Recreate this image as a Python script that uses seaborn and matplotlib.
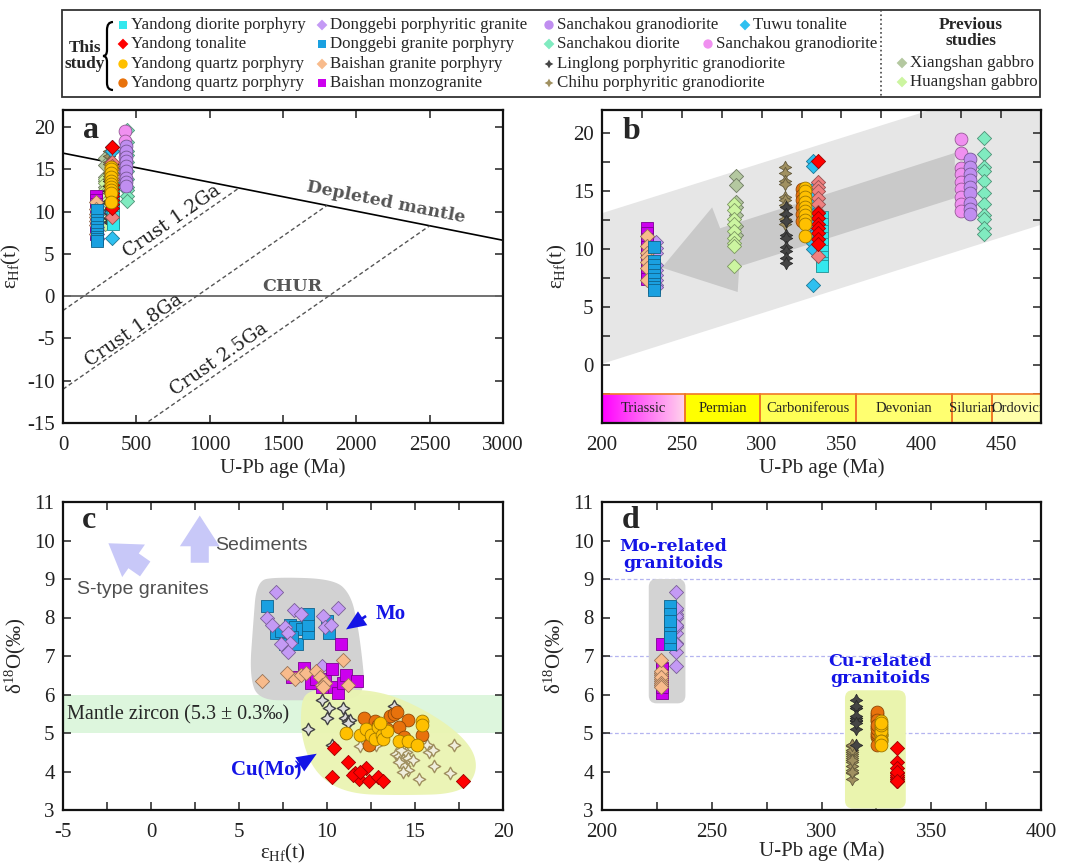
import numpy as np
import matplotlib
matplotlib.use("Agg")
import matplotlib.pyplot as plt
import matplotlib.colors as mcolors
import seaborn as sns
from matplotlib.patches import Polygon, Rectangle, FancyBboxPatch, PathPatch
from matplotlib.path import Path
from matplotlib.ticker import MultipleLocator
from matplotlib.colors import LinearSegmentedColormap

# ===================== DATA =====================
# ---- Hf isotopes (panels a, b): zircon U-Pb age (Ma) and eHf(t) ----
yd_dio_age = 338.0      # Yandong diorite porphyry
yd_dio_ehf = [12.8, 12.2, 11.6, 11.0, 10.4, 9.8, 9.3, 8.8, 8.5]
yd_ton_age = 335.0      # Yandong tonalite
yd_ton_ehf = [17.6, 13.1, 12.7, 12.2, 11.8, 11.4, 10.9, 10.4]
yd_ton_light_ehf = [15.8, 15.4, 15.0, 14.4, 13.9, 13.2, 9.4]
yd_qp1_age = 327.0      # Yandong quartz porphyry (yellow)
yd_qp1_ehf = [15.3, 15.0, 14.5, 14.1, 13.6, 13.3, 12.9, 12.5, 12.2, 11.1]
yd_qp2_age = 325.0      # Yandong quartz porphyry (orange)
yd_qp2_ehf = [15.2, 14.7, 14.2, 13.6, 13.0, 12.4]
dgb_pg_age = 234.0      # Donggebi porphyritic granite
dgb_pg_ehf = [10.6, 10.1, 9.7, 8.6, 8.2, 7.8, 7.3, 6.9, 6.7]
dgb_gp_age = 232.5      # Donggebi granite porphyry
dgb_gp_ehf = [10.2, 9.0, 8.6, 8.2, 7.8, 7.4, 7.0, 6.7, 6.5]
bs_gp_age = 228.0       # Baishan granite porphyry
bs_gp_ehf = [11.1, 10.3, 9.7, 9.3, 8.9, 8.4, 7.3]
bs_mg_age = 228.0       # Baishan monzogranite
bs_mg_ehf = [11.8, 11.4, 10.9, 10.2, 9.6, 9.0, 8.4, 7.9, 7.4]
sck_gd1_age = 430.5     # Sanchakou granodiorite (purple)
sck_gd1_ehf = [17.8, 17.1, 16.5, 16.0, 15.4, 14.8, 14.0, 13.5, 13.0]
sck_dio_age = 439.5     # Sanchakou diorite
sck_dio_ehf = [19.6, 18.2, 17.1, 16.7, 15.9, 14.8, 13.9, 12.9, 12.6, 11.8, 11.3]
ll_age = 315.5          # Linglong porphyritic granodiorite
ll_ehf = [13.6, 13.0, 12.4, 11.2, 11.0, 10.2, 9.8, 9.2, 8.8]
ch_age = 314.5          # Chihu porphyritic granodiorite
ch_ehf = [17.1, 16.6, 15.9, 15.6, 14.5, 14.2, 13.8, 13.0, 12.6, 12.2]
tw_age = 332.0          # Tuwu tonalite
tw_ehf = [17.6, 17.2, 15.2, 14.6, 13.8, 12.9, 12.0, 11.2, 10.5, 10.0, 6.9]
sck_gd2_age = 425.0     # Sanchakou granodiorite (pink)
sck_gd2_ehf = [19.5, 18.3, 17.0, 16.5, 15.8, 15.2, 14.5, 13.9, 13.3]
xs_age = 284.0          # Xiangshan gabbro
xs_ehf = [16.3, 15.5, 14.1, 13.6, 12.9, 12.0, 11.2]
hs_age = 283.0          # Huangshan gabbro
hs_ehf = [13.9, 13.4, 12.6, 12.2, 11.6, 11.0, 10.5, 10.3, 8.5]

# ---- O isotopes (panels c, d): eHf(t), d18O and age ----
o_dgb_pg_age = 233.5
o_dgb_pg_ehf = [7.1, 6.6, 6.9, 7.6, 7.8, 7.9, 7.8, 8.1, 8.5, 9.8, 10.6, 9.9, 10.2, 9.7, 7.4]
o_dgb_pg_d18o = [8.65, 8.0, 7.8, 7.75, 7.6, 7.35, 7.1, 8.2, 8.1, 8.05, 8.25, 7.75, 7.8, 6.75, 7.3]
o_dgb_gp_age = 231.0
o_dgb_gp_ehf = [6.6, 7.1, 7.6, 8.3, 7.9, 8.2, 8.6, 8.9, 8.9, 8.9, 7.4, 10.0, 10.1, 8.0]
o_dgb_gp_d18o = [8.3, 7.6, 7.3, 7.3, 7.8, 7.75, 7.7, 7.6, 7.8, 8.1, 7.65, 7.9, 7.6, 7.5]
o_bs_gp_age = 227.0
o_bs_gp_ehf = [6.3, 7.7, 8.2, 8.5, 8.8, 9.4, 9.6, 9.7, 9.9, 10.9, 11.2, 9.8]
o_bs_gp_d18o = [6.35, 6.55, 6.4, 6.5, 6.55, 6.6, 6.45, 6.25, 6.3, 6.9, 6.25, 6.2]
o_bs_mg_age = 227.5
o_bs_mg_ehf = [10.8, 8.0, 8.7, 9.1, 9.9, 10.3, 10.4, 10.6, 10.9, 11.1, 11.7, 9.7, 9.4]
o_bs_mg_d18o = [7.3, 6.45, 6.7, 6.3, 6.4, 6.65, 6.2, 6.05, 6.3, 6.5, 6.35, 6.2, 6.4]
o_ll_age = 315.5
o_ll_ehf = [9.7, 10.1, 10.0, 10.9, 11.0, 11.2, 11.3, 8.9, 10.3, 13.8, 13.6, 11.2]
o_ll_d18o = [5.85, 5.65, 5.4, 5.65, 5.4, 5.3, 5.35, 5.1, 4.7, 5.7, 5.45, 5.25]
o_ch_age = 314.0
o_ch_ehf = [11.9, 12.8, 13.9, 14.1, 14.3, 14.4, 14.6, 14.1, 14.5, 14.2, 14.6, 15.7,
            15.8, 16.0, 16.1, 17.2, 17.0, 15.2, 14.3, 14.9]
o_ch_d18o = [4.65, 4.7, 4.45, 4.4, 4.3, 4.15, 4.05, 4.25, 4.5, 4.55, 4.35, 4.7,
             4.5, 4.55, 4.15, 4.7, 3.95, 3.8, 4.0, 4.3]
o_qp2_age = 325.5
o_qp2_ehf = [12.1, 12.7, 13.6, 13.8, 14.0, 14.6, 14.1, 14.4, 15.4, 12.4, 13.1, 13.4, 12.9]
o_qp2_d18o = [5.4, 5.3, 5.45, 5.5, 5.55, 5.35, 5.15, 4.9, 4.95, 4.7, 5.0, 5.1, 5.2]
o_qp1_age = 327.0
o_qp1_ehf = [11.1, 11.9, 12.2, 12.5, 12.7, 12.9, 13.1, 13.2, 13.4, 14.1, 14.6, 15.1, 15.4, 15.4, 13.0]
o_qp1_d18o = [5.0, 4.95, 5.1, 4.95, 4.85, 5.15, 4.95, 4.85, 5.05, 4.8, 4.8, 4.7, 5.3, 5.2, 5.25]
o_ton_age = 334.5
o_ton_ehf = [10.4, 11.2, 10.3, 11.6, 11.8, 12.2, 12.4, 12.9, 13.2, 11.5, 11.9, 17.7]
o_ton_d18o = [4.6, 4.25, 3.85, 3.95, 3.8, 4.1, 3.75, 3.85, 3.75, 3.9, 4.0, 3.75]

# ---- reference lines (panel a) ----
dm_age = [0, 3000]
dm_ehf = [16.9, 6.6]
crust_model_ages = [1200, 1800, 2500]
crust_labels = ["Crust 1.2Ga", "Crust 1.8Ga", "Crust 2.5Ga"]
crust_slope = 0.01207   # eHf units per Ma

# ---- geological time scale (panel b) ----
period_names = ["Triassic", "Permian", "Carboniferous", "Devonian", "Silurian", "Ordovician"]
period_bounds = [200, 252, 299, 359, 419, 444, 485]

# ---- legend labels ----
leg_col1 = ["Yandong diorite porphyry", "Yandong tonalite", "Yandong quartz porphyry", "Yandong quartz porphyry"]
leg_col2 = ["Donggebi porphyritic granite", "Donggebi granite porphyry", "Baishan granite porphyry", "Baishan monzogranite"]
leg_col3 = ["Sanchakou granodiorite", "Sanchakou diorite", "Linglong porphyritic granodiorite", "Chihu porphyritic granodiorite"]
leg_extra = ["Tuwu tonalite", "Sanchakou granodiorite"]
leg_prev = ["Xiangshan gabbro", "Huangshan gabbro"]

# ===================== STYLES =====================
C_CYAN = "#33E8EE"; C_RED = "#FF0000"; C_GOLD = "#FFC000"; C_ORANGE = "#E8720C"
C_LAV = "#C49AF5"; C_BLUE = "#1AA0E0"; C_PEACH = "#F8BB8C"; C_MAG = "#CC00EE"
C_PURP = "#C08EF0"; C_MINT = "#80EBC0"; C_LL = "#454545"; C_CH = "#A09060"
C_TW = "#2EC0F0"; C_PINK = "#F090F0"; C_XS = "#B4C8A0"; C_HS = "#CCF5A0"; C_SALMON = "#F08080"
STAR = (4, 1, 0)
S_SQ, S_DI, S_CI, S_ST = 70, 52, 85, 80

sns.set_style("ticks")
plt.rcParams.update({
    "font.family": ["Liberation Serif", "DejaVu Serif"],
    "mathtext.fontset": "custom",
    "mathtext.rm": "Liberation Serif",
    "mathtext.it": "Liberation Serif:italic",
    "mathtext.bf": "Liberation Serif:bold",
    "axes.unicode_minus": False,
    "axes.linewidth": 1.6,
    "xtick.direction": "in", "ytick.direction": "in",
    "xtick.top": True, "ytick.right": True,
    "xtick.major.size": 6, "ytick.major.size": 6,
    "xtick.minor.size": 6, "ytick.minor.size": 6,
    "xtick.major.width": 1.1, "ytick.major.width": 1.1,
    "xtick.minor.width": 1.1, "ytick.minor.width": 1.1,
    "xtick.major.pad": 9, "ytick.major.pad": 6,
    "xtick.labelsize": 15, "ytick.labelsize": 15,
    "axes.labelsize": 15,
    "xtick.color": "#222222", "ytick.color": "#222222",
})


def darker(c, f=0.62):
    r, g, b = mcolors.to_rgb(c)
    return (r * f, g * f, b * f)


def pts(ax, x, y, color, marker, s, ec=None, lw=0.6, z=3, fc=None):
    sns.scatterplot(x=list(x), y=list(y), ax=ax, color=fc if fc is not None else color,
                    marker=marker, s=s, edgecolor=ec if ec is not None else darker(color),
                    linewidth=lw, legend=False, zorder=z)


def col(age, vals):
    return [age] * len(vals), vals


def chaikin(points, n=4):
    p = np.asarray(points, float)
    for _ in range(n):
        q = 0.75 * p + 0.25 * np.roll(p, -1, axis=0)
        r = 0.25 * p + 0.75 * np.roll(p, -1, axis=0)
        p = np.empty((2 * len(q), 2))
        p[0::2] = q
        p[1::2] = r
    return p


fig = plt.figure(figsize=(10.84, 8.63), dpi=100)

# ===================== LEGEND (pixel coordinates) =====================
lg = fig.add_axes([0, 0, 1, 1])
lg.set_xlim(0, 1084); lg.set_ylim(863, 0); lg.axis("off")
lg.add_patch(Rectangle((62, 10), 978, 87, fill=False, ec="#333333", lw=1.3))
lg.plot([881, 881], [10, 97], ls=":", color="#444444", lw=1.2)
rows = [25, 44, 64, 83]
LFS = 12.2


def leg_item(x, y, color, marker, s, label, ec="none", lw=0.0):
    lg.scatter([x], [y], c=[color], marker=marker, s=s, edgecolors=ec, linewidths=lw, zorder=3)
    lg.text(x + 8, y, label, fontsize=LFS, va="center", ha="left")


c1 = [(C_CYAN, "s", 38), (C_RED, "D", 30), (C_GOLD, "o", 45), (C_ORANGE, "o", 45)]
c2 = [(C_LAV, "D", 30), (C_BLUE, "s", 38), (C_PEACH, "D", 30), (C_MAG, "s", 38)]
c3 = [(C_PURP, "o", 45), (C_MINT, "D", 30), (C_LL, STAR, 40), (C_CH, STAR, 40)]
for i in range(4):
    leg_item(123, rows[i], *c1[i], leg_col1[i])
    leg_item(322, rows[i], *c2[i], leg_col2[i])
    leg_item(549, rows[i], *c3[i], leg_col3[i])
leg_item(745, rows[0], C_TW, "D", 30, leg_extra[0])
leg_item(708, rows[1], C_PINK, "o", 45, leg_extra[1])
leg_item(902, rows[2] - 1, C_XS, "D", 30, leg_prev[0])
leg_item(902, rows[3] - 1, C_HS, "D", 30, leg_prev[1])
lg.text(971, 33, "Previous\nstudies", fontsize=12.4, fontweight="bold", ha="center", va="center",
        linespacing=0.95)
lg.text(85, 56, "This\nstudy", fontsize=12.4, fontweight="bold", ha="center", va="center",
        linespacing=1.05)
brace = Path([(113, 22), (107, 22), (107, 30), (107, 50), (107, 56), (103, 56), (107, 56), (107, 62),
              (107, 83), (107, 90), (113, 90)],
             [Path.MOVETO, Path.CURVE3, Path.CURVE3, Path.LINETO, Path.CURVE3, Path.CURVE3,
              Path.CURVE3, Path.CURVE3, Path.LINETO, Path.CURVE3, Path.CURVE3])
lg.add_patch(PathPatch(brace, fill=False, lw=1.6, ec="black"))

# ===================== PANEL POSITIONS =====================
W, H = 1084.0, 863.0


def axpos(l, r, t, b):
    return [l / W, 1 - b / H, (r - l) / W, (b - t) / H]


ax_a = fig.add_axes(axpos(63, 503, 110, 423))
ax_b = fig.add_axes(axpos(602, 1041, 110, 423))
ax_c = fig.add_axes(axpos(63, 503, 502, 810))
ax_d = fig.add_axes(axpos(602, 1041, 502, 810))

EPS = "ε$_{\\mathrm{Hf}}$(t)"
D18 = "δ$^{18}$O(‰)"


def hf_points(ax):
    pts(ax, *col(xs_age, xs_ehf), C_XS, "D", S_DI)
    pts(ax, *col(hs_age, hs_ehf), C_HS, "D", S_DI)
    pts(ax, *col(ch_age, ch_ehf), C_CH, STAR, S_ST)
    pts(ax, *col(ll_age, ll_ehf), C_LL, STAR, S_ST)
    pts(ax, *col(sck_dio_age, sck_dio_ehf), C_MINT, "D", S_DI)
    pts(ax, *col(sck_gd2_age, sck_gd2_ehf), C_PINK, "o", S_CI)
    pts(ax, *col(sck_gd1_age, sck_gd1_ehf), C_PURP, "o", S_CI)
    pts(ax, *col(tw_age, tw_ehf), C_TW, "D", S_DI)
    pts(ax, *col(yd_dio_age, yd_dio_ehf), C_CYAN, "s", S_SQ)
    pts(ax, *col(yd_ton_age, yd_ton_light_ehf), C_SALMON, "D", S_DI)
    pts(ax, *col(yd_ton_age, yd_ton_ehf), C_RED, "D", S_DI)
    pts(ax, *col(yd_qp2_age, yd_qp2_ehf), C_ORANGE, "o", S_CI)
    pts(ax, *col(yd_qp1_age, yd_qp1_ehf), C_GOLD, "o", S_CI)
    pts(ax, *col(dgb_pg_age, dgb_pg_ehf), C_LAV, "D", S_DI)
    pts(ax, *col(bs_mg_age, bs_mg_ehf), C_MAG, "s", S_SQ)
    pts(ax, *col(bs_gp_age, bs_gp_ehf), C_PEACH, "D", S_DI)
    pts(ax, *col(dgb_gp_age, dgb_gp_ehf), C_BLUE, "s", S_SQ)


def angle_of(ax, p1, p2):
    a = ax.transData.transform(p1)
    b = ax.transData.transform(p2)
    return np.degrees(np.arctan2(b[1] - a[1], b[0] - a[0]))


# ===================== PANEL a =====================
ax = ax_a
ax.set_xlim(0, 3000); ax.set_ylim(-15, 22)
ax.set_xticks(np.arange(0, 3001, 500)); ax.set_yticks(np.arange(-15, 21, 5))
ax.plot(dm_age, dm_ehf, color="black", lw=1.2, zorder=2)
ax.axhline(0, color="#666666", lw=1.3, zorder=2)
dm_slope = (dm_ehf[1] - dm_ehf[0]) / (dm_age[1] - dm_age[0])
for t in crust_model_ages:
    xs_ = np.array([0.0, t])
    y_t = dm_ehf[0] + dm_slope * t
    ys_ = y_t - crust_slope * (t - xs_)
    ax.plot(xs_, ys_, color="#555555", lw=1.0, dashes=(3, 2), zorder=2)
hf_points(ax)
ang_c = angle_of(ax, (0, 0), (1000, 1000 * crust_slope))
ang_dm = angle_of(ax, (0, dm_ehf[0]), (3000, dm_ehf[1]))
for (tx, ty), lab in zip([(740, 8.9), (485, -4.0), (1065, -7.5)], crust_labels):
    ax.text(tx, ty, lab, rotation=ang_c, ha="center", va="center", fontsize=13.5,
            family="DejaVu Serif", color="#222222", rotation_mode="anchor")
ax.text(2200, 11.1, "Depleted mantle", rotation=ang_dm, ha="center", va="center", fontsize=12.5,
        family="DejaVu Serif", fontweight="bold", color="#555555", rotation_mode="anchor")
ax.text(1560, 1.1, "CHUR", ha="center", va="center", fontsize=12.5, family="DejaVu Serif",
        fontweight="bold", color="#555555")
ax.text(0.045, 0.935, "a", transform=ax.transAxes, fontsize=23, fontweight="bold", va="center")
ax.set_xlabel("U-Pb age (Ma)", labelpad=3)
ax.set_ylabel(EPS, labelpad=3)

# ===================== PANEL b =====================
ax = ax_b
band = Polygon([(200, 0.1), (200, 13.1), (475, 25.0), (475, 12.1)], closed=True,
               fc="#E6E6E6", ec="none", zorder=0.5)
ax.add_patch(band)
arrow = Polygon([(421, 18.3), (274, 11.8), (269, 13.6), (237.5, 8.4), (285, 6.3), (286, 8.5),
                 (421, 14.4)], closed=True, fc="#C9C9C9", ec="none", zorder=0.8)
ax.add_patch(arrow)
hf_points(ax)
tri_cmap = LinearSegmentedColormap.from_list("tri", ["#FF00FF", "#FFD6EC"])
ax.imshow(np.linspace(0, 1, 200)[None, :], extent=[period_bounds[0], period_bounds[1], -5, -2.5],
          aspect="auto", cmap=tri_cmap, zorder=1)
period_cols = [None, "#FFFF00", "#FFFF55", "#FFFF70", "#FFFF85", "#FFFFAA"]
for i in range(len(period_names)):
    x0, x1 = period_bounds[i], period_bounds[i + 1]
    if period_cols[i] is not None:
        ax.add_patch(Rectangle((x0, -5), x1 - x0, 2.5, fc=period_cols[i], ec="none", zorder=1))
    ax.add_patch(Rectangle((x0, -5), x1 - x0, 2.5, fill=False, ec="#F07828", lw=1.2, zorder=1.5))
    ax.text((x0 + x1) / 2, -3.78, period_names[i], ha="center", va="center", fontsize=10.5,
            color="#222222", clip_on=True, zorder=2)
ax.set_xlim(200, 475); ax.set_ylim(-5, 22)
ax.set_xticks(np.arange(200, 451, 50)); ax.set_yticks(np.arange(0, 21, 5))
ax.xaxis.set_minor_locator(MultipleLocator(25)); ax.yaxis.set_minor_locator(MultipleLocator(2.5))
ax.text(0.046, 0.93, "b", transform=ax.transAxes, fontsize=23, fontweight="bold", va="center")
ax.set_xlabel("U-Pb age (Ma)", labelpad=3)
ax.set_ylabel(EPS, labelpad=3)

# ===================== PANEL c =====================
ax = ax_c
ax.axhspan(5, 6, color="#DDF6DD", zorder=0.3, lw=0)
mo_outline = [(6.0, 8.95), (7.1, 9.05), (10.4, 9.0), (11.35, 8.6), (11.75, 7.8), (12.0, 6.95),
              (12.15, 6.2), (11.6, 5.85), (8.5, 5.85), (6.1, 5.85), (5.6, 6.5), (5.8, 7.8)]
cu_outline = [(8.9, 6.1), (10.4, 6.15), (13.3, 6.08), (16.2, 5.45), (18.2, 4.7), (18.6, 4.0),
              (17.6, 3.42), (14.1, 3.38), (11.2, 3.42), (9.4, 3.9), (8.55, 4.8), (8.5, 5.75)]
ax.add_patch(Polygon(chaikin(mo_outline), closed=True, fc="#D2D2D2", ec="none", zorder=0.6))
ax.add_patch(Polygon(chaikin(cu_outline), closed=True, fc="#EAF4B2", ec="none", alpha=0.95, zorder=0.6))
pts(ax, o_dgb_gp_ehf, o_dgb_gp_d18o, C_BLUE, "s", S_SQ)
pts(ax, o_dgb_pg_ehf, o_dgb_pg_d18o, C_LAV, "D", S_DI)
pts(ax, o_bs_mg_ehf, o_bs_mg_d18o, C_MAG, "s", S_SQ)
pts(ax, o_bs_gp_ehf, o_bs_gp_d18o, C_PEACH, "D", S_DI)
pts(ax, o_ch_ehf, o_ch_d18o, C_CH, STAR, S_ST, fc="#F0EEDD", ec=C_CH, lw=1.0)
pts(ax, o_ll_ehf, o_ll_d18o, C_LL, STAR, S_ST, fc="#DDDDDD", ec=C_LL, lw=1.0)
pts(ax, o_qp2_ehf, o_qp2_d18o, C_ORANGE, "o", S_CI)
pts(ax, o_qp1_ehf, o_qp1_d18o, C_GOLD, "o", S_CI)
pts(ax, o_ton_ehf, o_ton_d18o, C_RED, "D", S_DI)
ax.text(-4.75, 5.47, "Mantle zircon (5.3 ± 0.3‰)", fontsize=14.5, ha="left", va="center")
ax.text(-4.2, 8.72, "S-type granites", fontsize=14, family="Liberation Sans", color="#505050",
        ha="left", va="center")
ax.text(3.65, 9.88, "Sediments", fontsize=14, family="Liberation Sans", color="#505050",
        ha="left", va="center")
lav_arrow = dict(arrowstyle="simple,head_length=0.85,head_width=1.1,tail_width=0.5",
                 mutation_scale=26, fc="#C8C8F8", ec="none")
ax.annotate("", xy=(-2.55, 9.97), xytext=(-0.2, 9.22), arrowprops=lav_arrow)
ax.annotate("", xy=(2.77, 10.72), xytext=(2.77, 9.35), arrowprops=lav_arrow)
blue_arrow = dict(arrowstyle="simple,head_length=0.9,head_width=0.75,tail_width=0.12",
                  mutation_scale=16, fc="#1414E6", ec="none")
ax.annotate("", xy=(10.95, 7.65), xytext=(12.35, 8.08), arrowprops=blue_arrow)
ax.annotate("", xy=(9.55, 4.5), xytext=(8.05, 4.07), arrowprops=blue_arrow)
ax.text(12.75, 8.1, "Mo", fontsize=15, fontweight="bold", color="#1414E6", ha="left", va="center")
ax.text(6.55, 4.03, "Cu(Mo)", fontsize=15, fontweight="bold", color="#1414E6", ha="center", va="center")
ax.set_xlim(-5, 20); ax.set_ylim(3, 11)
ax.set_xticks(np.arange(-5, 21, 5)); ax.set_yticks(np.arange(3, 12, 1))
ax.xaxis.set_minor_locator(MultipleLocator(2.5))
ax.text(0.043, 0.94, "c", transform=ax.transAxes, fontsize=23, fontweight="bold", va="center")
ax.set_xlabel(EPS, labelpad=0)
ax.set_ylabel(D18, labelpad=4)

# ===================== PANEL d =====================
ax = ax_d
for yv in (5, 7, 9):
    ax.axhline(yv, color="#B4B4F0", lw=0.9, ls=(0, (3, 2)), zorder=0.4)
asp = (200 / 439.0) / (8 / 308.0)
ax.add_patch(FancyBboxPatch((221.3, 5.77), 16.7, 3.23, boxstyle="round,pad=0,rounding_size=3.6",
                            mutation_aspect=1 / asp, fc="#D3D3D3", ec="none", zorder=0.6))
ax.add_patch(FancyBboxPatch((310.7, 3.04), 27.7, 3.07, boxstyle="round,pad=0,rounding_size=3.6",
                            mutation_aspect=1 / asp, fc="#EAF4AE", ec="none", zorder=0.6))
pts(ax, *col(o_bs_mg_age, o_bs_mg_d18o), C_MAG, "s", S_SQ)
pts(ax, *col(o_bs_gp_age, o_bs_gp_d18o), C_PEACH, "D", S_DI)
pts(ax, *col(o_dgb_pg_age, o_dgb_pg_d18o), C_LAV, "D", S_DI)
pts(ax, *col(o_dgb_gp_age, o_dgb_gp_d18o), C_BLUE, "s", S_SQ)
pts(ax, *col(o_ch_age, o_ch_d18o), C_CH, STAR, S_ST)
pts(ax, *col(o_ll_age, o_ll_d18o), C_LL, STAR, S_ST)
pts(ax, *col(o_qp2_age, o_qp2_d18o), C_ORANGE, "o", S_CI)
pts(ax, *col(o_qp1_age, o_qp1_d18o), C_GOLD, "o", S_CI)
pts(ax, *col(o_ton_age, o_ton_d18o), C_RED, "D", S_DI)
ax.text(232.3, 9.62, "Mo-related\ngranitoids", fontsize=12.5, family="DejaVu Serif", fontweight="bold",
        color="#1414E6", ha="center", va="center", linespacing=0.95)
ax.text(326.6, 6.64, "Cu-related\ngranitoids", fontsize=12.5, family="DejaVu Serif", fontweight="bold",
        color="#1414E6", ha="center", va="center", linespacing=0.95)
ax.set_xlim(200, 400); ax.set_ylim(3, 11)
ax.set_xticks(np.arange(200, 401, 50)); ax.set_yticks(np.arange(3, 12, 1))
ax.xaxis.set_minor_locator(MultipleLocator(25))
ax.text(0.046, 0.94, "d", transform=ax.transAxes, fontsize=23, fontweight="bold", va="center")
ax.set_xlabel("U-Pb age (Ma)", labelpad=0)
ax.set_ylabel(D18, labelpad=4)

for a_ in (ax_a, ax_b, ax_c, ax_d):
    for sp in a_.spines.values():
        sp.set_zorder(5)
        sp.set_color("#111111")

fig.savefig("out.png", dpi=100)
